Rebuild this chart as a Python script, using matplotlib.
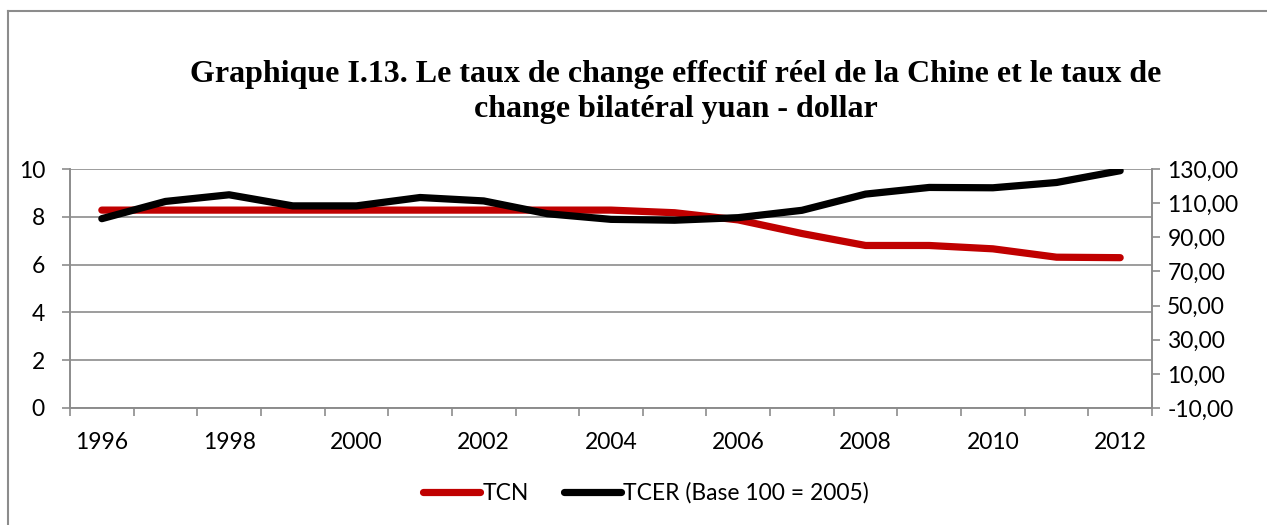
import matplotlib
matplotlib.use("Agg")
import matplotlib.pyplot as plt
from matplotlib.lines import Line2D
from matplotlib.ticker import FixedLocator, FuncFormatter

years = [1996, 1997, 1998, 1999, 2000, 2001, 2002, 2003, 2004,
         2005, 2006, 2007, 2008, 2009, 2010, 2011, 2012]
tcn = [8.28, 8.28, 8.28, 8.28, 8.28, 8.28, 8.28, 8.28, 8.28,
       8.17, 7.87, 7.30, 6.80, 6.80, 6.66, 6.31, 6.29]
tcer = [100.9, 111.0, 114.9, 108.4, 108.4, 113.3, 111.3, 103.8, 100.5,
        100.0, 101.5, 105.8, 115.3, 119.2, 119.0, 122.1, 129.0]
left_ticks = [0, 2, 4, 6, 8, 10]
right_ticks = [-10, 10, 30, 50, 70, 90, 110, 130]
title = "Graphique I.13. Le taux de change effectif réel de la Chine et le taux de\nchange bilatéral yuan - dollar"
label_tcn = "TCN"
label_tcer = "TCER (Base 100 = 2005)"

W, H = 1267, 525
fig = plt.figure(figsize=(W / 100, H / 100), dpi=100)
sans = ["Lato", "DejaVu Sans"]
tick_fs = 16.5
grey = "#8c8c8c"

ax = fig.add_axes([70 / W, 1 - 408 / H, (1152 - 70) / W, (408 - 169) / H])
ax2 = ax.twinx()

x = list(range(len(years)))
l1, = ax.plot(x, tcn, color="#c00000", lw=5.2, solid_capstyle="round", zorder=3)
l2, = ax2.plot(x, tcer, color="black", lw=5.2, solid_capstyle="round", zorder=4)

ax.set_xlim(-0.5, len(years) - 0.5)
ax.set_ylim(0, 10)
ax2.set_ylim(-10, 130)
ax.set_yticks(left_ticks)
ax2.set_yticks(right_ticks)
ax2.yaxis.set_major_formatter(FuncFormatter(lambda v, p: f"{v:.2f}".replace(".", ",")))

major_pos = [i for i, y in enumerate(years) if y % 2 == 0]
ax.xaxis.set_major_locator(FixedLocator(major_pos))
ax.set_xticklabels([str(years[i]) for i in major_pos])
ax.xaxis.set_minor_locator(FixedLocator([i - 0.5 for i in range(len(years) + 1)]))
ax.tick_params(axis="x", which="major", length=0, pad=17, labelsize=tick_fs)
ax.tick_params(axis="x", which="minor", length=6, color=grey, width=1.2)
ax.tick_params(axis="y", length=6, color=grey, width=1.2, pad=12, labelsize=tick_fs)
ax2.tick_params(axis="y", length=6, color=grey, width=1.2, pad=5, labelsize=tick_fs)
for lab in ax.get_xticklabels() + ax.get_yticklabels() + ax2.get_yticklabels():
    lab.set_fontfamily(sans)

ax.grid(axis="y", color=grey, lw=1.2, zorder=0)
ax.set_axisbelow(True)
for a in (ax, ax2):
    a.spines["top"].set_visible(False)
    for s in ("left", "right", "bottom"):
        a.spines[s].set_color(grey)
        a.spines[s].set_linewidth(1.2)

fig.text(676 / W, 1 - 92 / H, title, ha="center", va="center",
         fontsize=23, fontweight="bold", family=["Liberation Serif", "DejaVu Serif"],
         linespacing=1.25)

leg = fig.legend([l1, l2], [label_tcn, label_tcer], loc="center",
                 bbox_to_anchor=(646 / W, 1 - 493 / H), ncol=2, frameon=False,
                 prop={"family": sans, "size": tick_fs}, handlelength=2.5,
                 handletextpad=0.1, columnspacing=1.5)

fig.add_artist(Line2D([8 / W, 1.0], [1 - 11 / H, 1 - 11 / H], transform=fig.transFigure,
                      color=grey, lw=1.5))
fig.add_artist(Line2D([8 / W, 8 / W], [1 - 11 / H, 0.0], transform=fig.transFigure,
                      color=grey, lw=1.5))

fig.savefig("out.png", dpi=100)
